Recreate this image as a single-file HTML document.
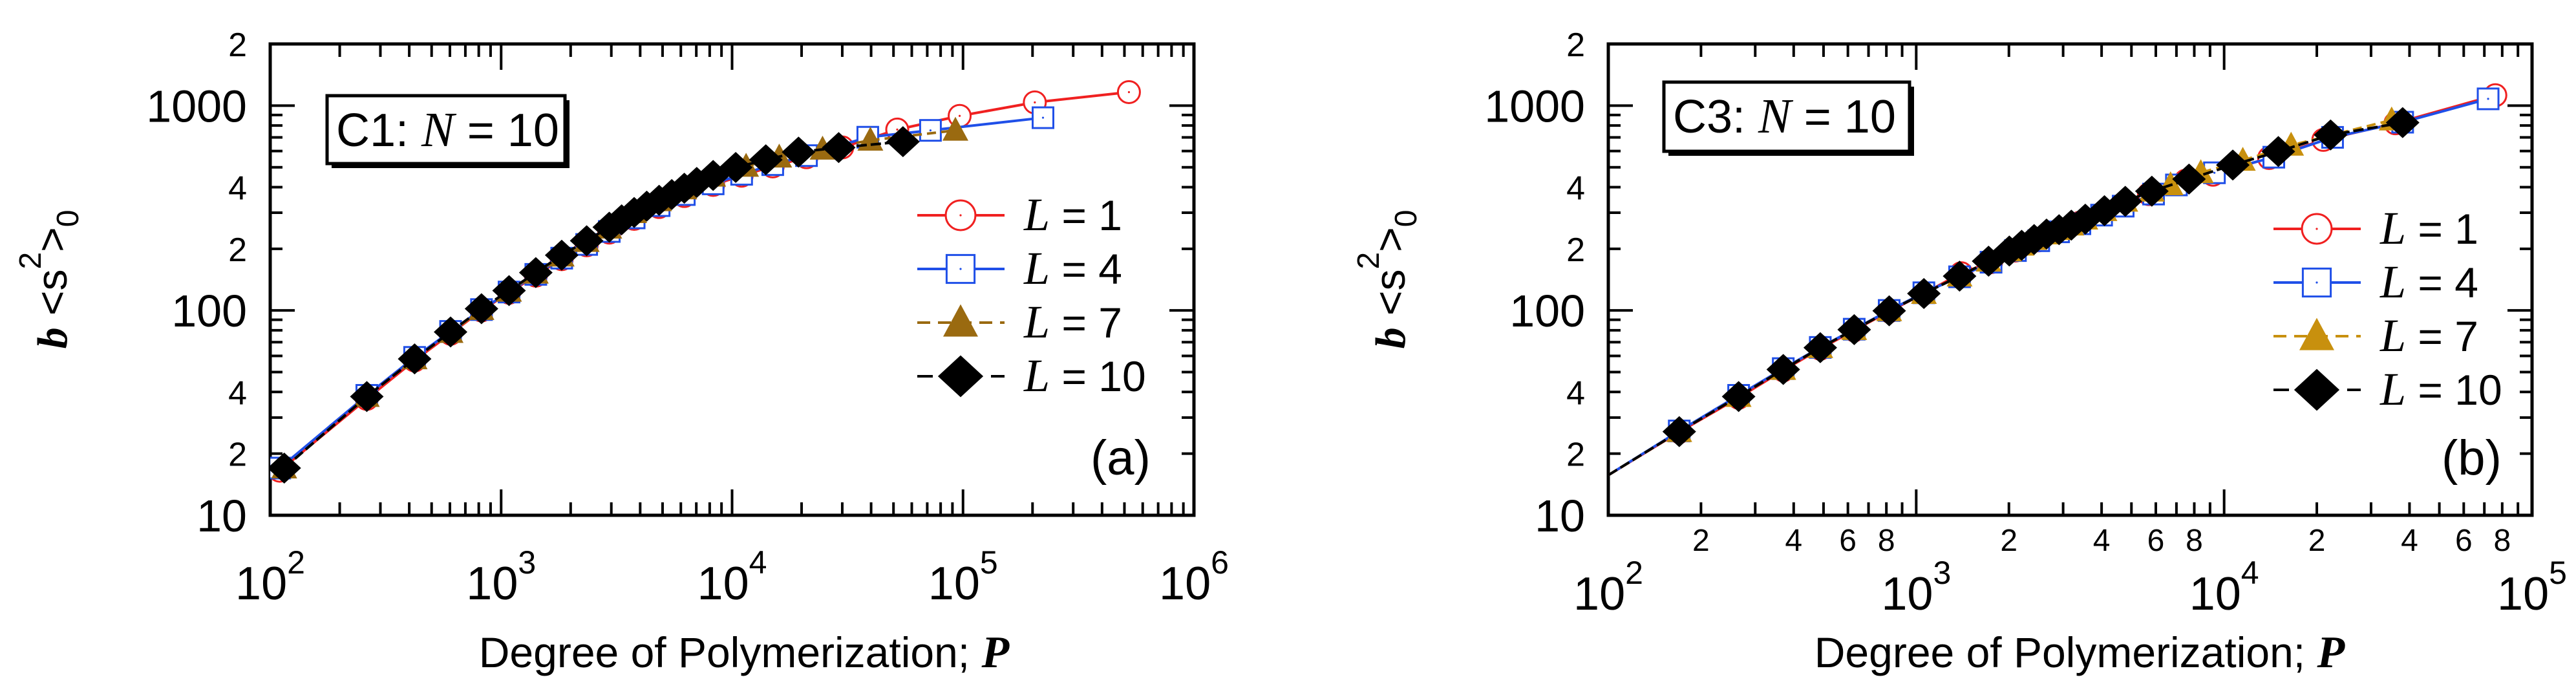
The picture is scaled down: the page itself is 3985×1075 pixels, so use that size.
<!DOCTYPE html>
<html><head><meta charset="utf-8"><style>
html,body{margin:0;padding:0;background:#fff;}
svg{display:block;}
text{font-family:"Liberation Sans",sans-serif;fill:#000;}
.ser{font-family:"Liberation Serif",serif;}
</style></head><body>
<svg id="fig" width="3985" height="1075" viewBox="0 0 3985 1075" xmlns="http://www.w3.org/2000/svg"></svg>
<script>
// ---- Panel (a) data: C1, N = 10 ----
const aP1 = [110,262,422,604,822,1082,1413,1829,2346,2939,3767,4831,6210,8280,11000,15000,21000,30000,51900,96700,204600,523000];
const aY1 = [16.5,37,57,77,100,122,148,178,208,240,280,320,362,410,455,505,560,625,764,891,1037,1164];
const aP4 = [110,262,422,604,822,1082,1413,1829,2346,2939,3767,4831,6210,8280,11000,15000,21000,38700,72300,222000];
const aY4 = [17,38.5,59,79,101,123,150,180,210,243,283,325,368,415,462,515,570,701,757,873];
const aP7 = [115,262,422,604,822,1082,1413,1829,2346,2939,3767,4831,6210,8280,11500,16000,24650,39700,92700];
const aY7 = [17,38,58,78,101,124,152,184,217,252,300,343,392,452,505,560,612,677,757];
const aP10 = [115,262,422,604,822,1082,1413,1829,2346,2939,3325,3767,4270,4831,5480,6210,7030,8280,10370,14000,19400,28950,54950];
const aY10 = [17,38,58,78.5,102,125,153,186,219,255,277,301,323,345,368,395,422,456,499,544,593,624,667];
// ---- Panel (b) data: C3, N = 10 ----
const bP1 = [100,170,265,370,488,629,817,1059,1400,1750,2100,2500,2900,3400,4000,4700,5700,7500,9200,14000,21000,36000,76000];
const bY1 = [15.7,25.5,37.5,51,65,80,99,121,152,172,196,220,243,268,296,327,370,430,460,555,680,820,1124];
const bP4 = [100,170,265,370,488,629,817,1059,1383,1750,2100,2500,2900,3400,4000,4700,5900,7000,9300,14500,22500,38000,72000];
const bY4 = [15.7,25.8,38.5,52,66,81,100,122,146,172,196,219,242,265,292,323,370,410,470,560,700,830,1079];
const bP7 = [100,170,265,370,488,629,817,1059,1383,1718,2006,2200,2415,2650,2910,3190,3541,4086,4775,5824,6700,8400,11500,16500,35000];
const bY7 = [15.7,25.6,38,51.5,65.8,80.6,99.6,121,147,174,195,208,222,236,248,261,279,307,341,382,410,470,540,640,850];
const bP10 = [100,170,265,370,488,629,817,1059,1383,1718,2006,2200,2415,2650,2910,3190,3541,4086,4775,5824,7690,10670,15000,22170,38000];
const bY10 = [15.7,25.6,38,51.5,65.8,80.6,99.6,121,147,174,195,208,222,236,248,261,279,307,341,382,438,513,597,719,826];
// ---- Tick labels ----
const yMajorLabels = ["10","100","1000"];
const yMajorValues = [10,100,1000];
const yMinorLabels = ["2","4","2","4","2"];
const yMinorValues = [20,40,200,400,2000];
const xMinorDigits = ["2","4","6","8"];
const xMinorMult = [2,4,6,8];
const legendLabels = ["1","4","7","10"];

const NS = "http://www.w3.org/2000/svg";
const svg = document.getElementById('fig');
function el(tag, attrs, parent){
  const e = document.createElementNS(NS, tag);
  for (const k in attrs) e.setAttribute(k, attrs[k]);
  (parent||svg).appendChild(e);
  return e;
}

function marker(g, kind, cx, cy, s, color){
  let m;
  if (kind==='circle'){
    m = el('circle',{cx:cx,cy:cy,r:17*s,fill:'#fff',stroke:color,'stroke-width':3},g);
    el('circle',{cx:cx,cy:cy,r:1.6,fill:color},g);
  } else if (kind==='square'){
    m = el('rect',{x:cx-16*s,y:cy-16*s,width:32*s,height:32*s,fill:'#fff',stroke:color,'stroke-width':3},g);
    el('circle',{cx:cx,cy:cy,r:1.6,fill:color},g);
  } else if (kind==='tri'){
    m = el('polygon',{points:`${cx},${cy-21*s} ${cx+20*s},${cy+16*s} ${cx-20*s},${cy+16*s}`,fill:color},g);
  } else {
    m = el('polygon',{points:`${cx},${cy-24*s} ${cx+26*s},${cy} ${cx},${cy+24*s} ${cx-26*s},${cy}`,fill:color},g);
  }
  return m;
}

function panel(cfg){
  const g = el('g',{});
  
  
  const X = v => cfg.x0 + (Math.log10(v)-cfg.xmin)/(cfg.xmax-cfg.xmin)*(cfg.x1-cfg.x0);
  const Y = v => cfg.yb - (Math.log10(v)-1)/(Math.log10(2000)-1)*(cfg.yb-cfg.yt);
  const clipId = cfg.name+'-clip';
  const cp = el('clipPath',{id:clipId},g);
  el('rect',{x:cfg.x0,y:cfg.yt,width:cfg.x1-cfg.x0,height:cfg.yb-cfg.yt},cp);

  for (let d=1; d<=3; d++){
    for (let m=1; m<=9; m++){
      const v = m*Math.pow(10,d);
      if (v<10 || v>2000) continue;
      const y = Y(v);
      const len = (m===1)?38:19;
      el('line',{x1:cfg.x0,y1:y,x2:cfg.x0+len,y2:y,stroke:'#000','stroke-width':4},g);
      el('line',{x1:cfg.x1,y1:y,x2:cfg.x1-len,y2:y,stroke:'#000','stroke-width':4},g);
    }
  }
  for (let d=cfg.xmin; d<cfg.xmax; d++){
    for (let m=1; m<=9; m++){
      const v = m*Math.pow(10,d);
      const x = X(v);
      const len = (m===1)?40:20;
      el('line',{x1:x,y1:cfg.yb,x2:x,y2:cfg.yb-len,stroke:'#000','stroke-width':4},g);
      el('line',{x1:x,y1:cfg.yt,x2:x,y2:cfg.yt+len,stroke:'#000','stroke-width':4},g);
    }
  }
  const fr = el('rect',{x:cfg.x0,y:cfg.yt,width:cfg.x1-cfg.x0,height:cfg.yb-cfg.yt,fill:'none',stroke:'#000','stroke-width':5},g);
  
  

  yMajorValues.forEach((v,i)=>{
    const t = el('text',{x:cfg.x0-36,y:Y(v)+25,'font-size':70,'text-anchor':'end'},g);
    t.textContent = yMajorLabels[i];
    
    
  });
  yMinorValues.forEach((v,i)=>{
    const t = el('text',{x:cfg.x0-36,y:Y(v)+19,'font-size':52,'text-anchor':'end'},g);
    t.textContent = yMinorLabels[i];
    
    
  });
  for (let d=cfg.xmin; d<=cfg.xmax; d++){
    const t = el('text',{x:X(Math.pow(10,d)),y:cfg.xlabY,'font-size':72,'text-anchor':'middle'},g);
    
    
    const a = el('tspan',{},t); a.textContent='10';
    const b = el('tspan',{dy:-40,'font-size':50},t); b.textContent=String(d);
  }
  if (cfg.minorX){
    for (let d=cfg.xmin; d<cfg.xmax; d++){
      xMinorMult.forEach((m,i)=>{
        const t = el('text',{x:X(m*Math.pow(10,d)),y:852,'font-size':48,'text-anchor':'middle'},g);
        t.textContent = xMinorDigits[i];
        
        
      });
    }
  }
  const xt = el('text',{x:cfg.xtitleX,y:1032,'font-size':66,'text-anchor':'middle'},g);
  
  
  const x1s = el('tspan',{},xt); x1s.textContent='Degree of Polymerization; ';
  const x2s = el('tspan',{class:'ser','font-weight':'bold','font-style':'italic','font-size':70},xt); x2s.textContent='P';

  const yt = el('text',{x:0,y:0,'font-size':66,'text-anchor':'middle',transform:`translate(${cfg.ytitleX},432) rotate(-90)`},g);
  
  
  const s1 = el('tspan',{class:'ser','font-weight':'bold','font-style':'italic'},yt); s1.textContent='b';
  const s2 = el('tspan',{},yt); s2.textContent=' <s';
  const s3 = el('tspan',{dy:-40,'font-size':48},yt); s3.textContent='2';
  const s4 = el('tspan',{dy:40},yt); s4.textContent='>';
  const s5 = el('tspan',{dy:18,'font-size':48},yt); s5.textContent='0';

  const bx = el('g',{},g);
  
  
  el('rect',{x:cfg.box[0]+7,y:cfg.box[1]+7,width:cfg.box[2],height:cfg.box[3],fill:'#000'},bx);
  el('rect',{x:cfg.box[0],y:cfg.box[1],width:cfg.box[2],height:cfg.box[3],fill:'#fff',stroke:'#000','stroke-width':5},bx);
  const bt = el('text',{x:cfg.box[0]+14,y:cfg.box[1]+78,'font-size':72},bx);
  const b1 = el('tspan',{},bt); b1.textContent = cfg.boxLabel+': ';
  const b2 = el('tspan',{class:'ser','font-style':'italic','font-size':76},bt); b2.textContent='N';
  const b3 = el('tspan',{},bt); b3.textContent=' = 10';

  const pl = el('text',{x:cfg.plX,y:734,'font-size':76},g);
  pl.textContent = cfg.plLabel;
  
  

  const dg = el('g',{'clip-path':`url(#${clipId})`},g);
  cfg.series.forEach(s=>{
    const sg = el('g',{},dg);
    
    
    const pts = s.P.map((p,i)=>X(p)+','+Y(s.Y[i])).join(' ');
    const ln = el('polyline',{points:pts,fill:'none',stroke:s.color,'stroke-width':4},sg);
    if (s.dash) ln.setAttribute('stroke-dasharray', s.dash);
    
    
    s.P.forEach((p,i)=>{
      if (p<=100) return;
      const m = marker(sg, s.kind, X(p), Y(s.Y[i]), 1, s.color);
      
      
    });
  });

  const lg = el('g',{},g);
  
  
  cfg.series.forEach((s,i)=>{
    const y = cfg.legY[i];
    const eg = el('g',{},lg);
    
    
    const l = el('line',{x1:cfg.legX,y1:y,x2:cfg.legX+135,y2:y,stroke:s.color,'stroke-width':4},eg);
    if (s.dash) l.setAttribute('stroke-dasharray', s.legDash);
    marker(eg, s.kind, cfg.legX+67, y, 1.35, s.color);
    const t = el('text',{x:cfg.legX+165,y:y+23,'font-size':66},eg);
    const t1 = el('tspan',{class:'ser','font-style':'italic','font-size':72},t); t1.textContent='L';
    const t2 = el('tspan',{},t); t2.textContent=' = '+legendLabels[i];
  });
}

panel({name:'panel-a', x0:418, x1:1847, xmin:2, xmax:6, yt:68, yb:797, xlabY:927, minorX:false,
  xtitleX:1151, ytitleX:103, box:[506,148,368,105], boxLabel:'C1', plX:1687, plLabel:'(a)',
  legX:1419, legY:[333,416,499,582],
  series:[
    {label:1, P:aP1, Y:aY1, color:'#f02020', kind:'circle'},
    {label:4, P:aP4, Y:aY4, color:'#1f4fe8', kind:'square'},
    {label:7, P:aP7, Y:aY7, color:'#9a6a10', kind:'tri', dash:'14 8', legDash:'20 12'},
    {label:10, P:aP10, Y:aY10, color:'#000', kind:'diamond', dash:'16 6', legDash:'24 14'}
  ]});
panel({name:'panel-b', x0:2488, x1:3917, xmin:2, xmax:5, yt:68, yb:797, xlabY:943, minorX:true,
  xtitleX:3217, ytitleX:2173, box:[2574,127,380,107], boxLabel:'C3', plX:3777, plLabel:'(b)',
  legX:3517, legY:[354,437,520,603],
  series:[
    {label:1, P:bP1, Y:bY1, color:'#f02020', kind:'circle'},
    {label:4, P:bP4, Y:bY4, color:'#1f4fe8', kind:'square'},
    {label:7, P:bP7, Y:bY7, color:'#c8900e', kind:'tri', dash:'14 8', legDash:'20 12'},
    {label:10, P:bP10, Y:bY10, color:'#000', kind:'diamond', dash:'16 6', legDash:'24 14'}
  ]});
</script>
</body></html>
